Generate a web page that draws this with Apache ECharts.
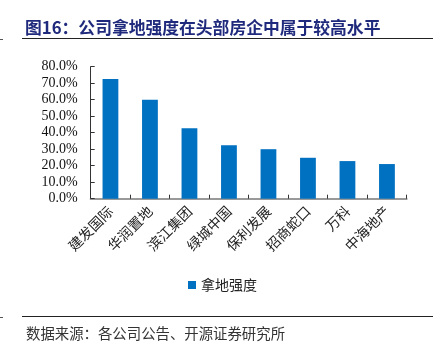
<!DOCTYPE html>
<html><head><meta charset="utf-8">
<script src="https://cdn.jsdelivr.net/npm/echarts@6/dist/echarts.min.js"></script>
<style>html,body{margin:0;padding:0;background:#fff}#c{width:445px;height:355px}</style>
</head><body><div id="c"></div>
<script>
const categories = ['建发国际','华润置地','滨江集团','绿城中国','保利发展','招商蛇口','万科','中海地产'];
const values = [72.5, 60.0, 42.7, 32.4, 30.0, 24.8, 22.8, 21.0];
const seriesName = '拿地强度';
const titleText = '图16：公司拿地强度在头部房企中属于较高水平';
const sourceText = '数据来源：各公司公告、开源证券研究所';

const chart = echarts.init(document.getElementById('c'));
chart.setOption({
  animation: false,
  backgroundColor: '#fff',
  title: [
    {text: titleText, left: 20, top: 14, textStyle: {fontFamily: 'Noto Sans CJK SC', fontSize: 16.8, fontWeight: 'bold', color: '#1F2A7C'}},
    {text: sourceText, left: 21, top: 321, textStyle: {fontFamily: 'Noto Sans CJK SC', fontSize: 14.4, fontWeight: 'normal', color: '#333'}}
  ],
  graphic: [
    {type: 'line', shape: {x1: 22, y1: 38.5, x2: 433, y2: 38.5}, style: {stroke: '#222', lineWidth: 1}},
    {type: 'line', shape: {x1: 22, y1: 316.5, x2: 433, y2: 316.5}, style: {stroke: '#222', lineWidth: 1}},
    {type: 'line', shape: {x1: 0, y1: 39.5, x2: 3, y2: 39.5}, style: {stroke: '#555', lineWidth: 1}},
    {type: 'line', shape: {x1: 0, y1: 317.5, x2: 3, y2: 317.5}, style: {stroke: '#555', lineWidth: 1}}
  ],
  legend: {
    data: [seriesName], left: 'center', top: 273, itemWidth: 8, itemHeight: 8, itemGap: 4,
    icon: 'rect',
    textStyle: {fontFamily: 'Noto Sans CJK SC', fontSize: 14, color: '#222'}
  },
  grid: {left: 90.7, right: 38.3, top: 66.7, bottom: 156.3, containLabel: false},
  xAxis: {
    type: 'category', data: categories,
    axisLine: {lineStyle: {color: '#999', width: 2}},
    axisTick: {show: true, inside: true, length: 4, lineStyle: {color: '#333'}},
    axisLabel: {rotate: 45, interval: 0, margin: 10, fontFamily: 'Noto Sans CJK SC', fontSize: 14, color: '#222'}
  },
  yAxis: {
    type: 'value', min: 0, max: 80, interval: 10,
    axisLine: {show: true, lineStyle: {color: '#333'}},
    axisTick: {show: true, inside: true, length: 4, lineStyle: {color: '#333'}},
    splitLine: {show: false},
    axisLabel: {formatter: v => v.toFixed(1) + '%', fontFamily: 'Liberation Serif', fontSize: 14, color: '#111', margin: 13}
  },
  series: [{
    name: seriesName, type: 'bar', data: values, barWidth: '40%',
    itemStyle: {color: '#0070C0'}
  }]
});
</script></body></html>
